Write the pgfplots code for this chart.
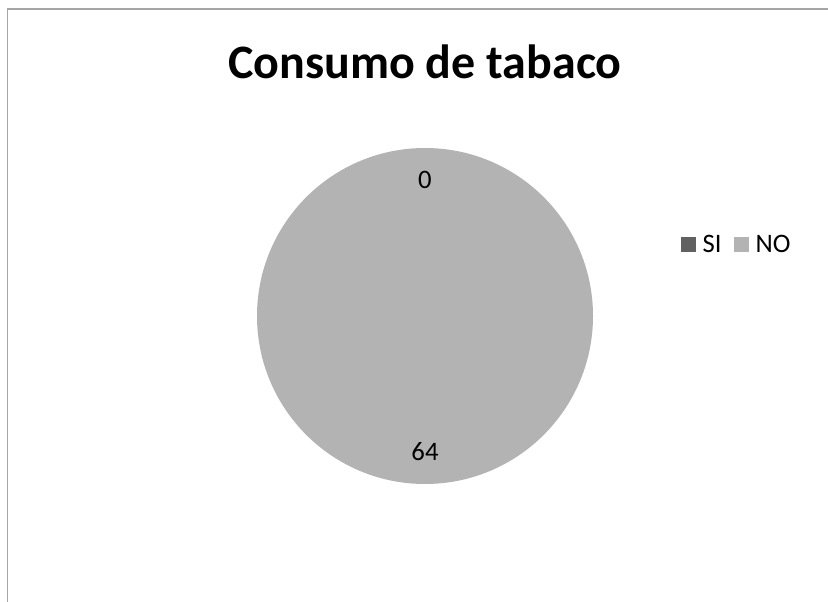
\documentclass[border=0pt]{standalone}
\usepackage{pgfplots}
\pgfplotsset{compat=1.18}
\usepackage{pgfplotstable}
\usepackage{fontspec}
\setmainfont{Carlito}
\definecolor{siColor}{HTML}{616161}
\definecolor{noColor}{HTML}{B3B3B3}
\definecolor{frameGray}{HTML}{A6A6A6}
\pgfplotstableread{
label value color
SI 0 siColor
NO 64 noColor
}\pietable
\begin{document}
\begin{tikzpicture}
\useasboundingbox (0,0) rectangle (621pt,450.75pt);
\draw[frameGray, line width=1.1pt] (5.6pt,-2pt) -- (5.6pt,444pt) -- (623pt,444pt);
\node[font=\fontsize{36}{43}\selectfont\bfseries, anchor=base] at (318.75pt,392pt) {Consumo de tabaco};
\begin{axis}[
  at={(318.75pt,213.75pt)}, anchor=center,
  x=126pt, y=126pt,
  xmin=-1, xmax=1, ymin=-1, ymax=1,
  hide axis, clip=false,
  legend columns=2,
  legend style={draw=none, fill=none, inner sep=0pt,
    font=\fontsize{20}{24}\selectfont,
    at={(rel axis cs:1.262,0.712)}, anchor=west,
    nodes={inner sep=0pt},
    /tikz/every even column/.append style={column sep=9.5pt}},
  legend image code/.code={\fill[#1] (0pt,-5.6pt) rectangle (11.2pt,5.6pt); \path (16pt,0pt);},
]
\addlegendimage{fill=siColor, draw=none}
\addlegendentry{SI}
\addlegendimage{fill=noColor, draw=none}
\addlegendentry{NO}
\pgfplotstablegetrowsof{\pietable}
\pgfmathtruncatemacro{\lastrow}{\pgfplotsretval-1}
\def\total{0}
\pgfplotsforeachungrouped \i in {0,...,\lastrow}{%
  \pgfplotstablegetelem{\i}{value}\of\pietable
  \pgfmathsetmacro{\total}{\total+\pgfplotsretval}%
}
\def\cum{0}
\pgfplotsforeachungrouped \i in {0,...,\lastrow}{%
  \pgfplotstablegetelem{\i}{value}\of\pietable
  \let\val\pgfplotsretval
  \pgfplotstablegetelem{\i}{color}\of\pietable
  \let\col\pgfplotsretval
  \pgfmathsetmacro{\aa}{90-(\cum/\total)*360}%
  \pgfmathsetmacro{\ab}{90-((\cum+\val)/\total)*360}%
  \pgfmathsetmacro{\xs}{cos(\aa)}%
  \pgfmathsetmacro{\ys}{sin(\aa)}%
  \pgfmathparse{\val>0}%
  \ifdim\pgfmathresult pt>0pt
    \edef\cmd{\noexpand\fill[\col] (axis cs:0,0) -- (axis cs:\xs,\ys) arc[start angle=\aa, end angle=\ab, radius=126pt] -- cycle;}%
    \cmd
  \fi
  \pgfmathsetmacro{\cum}{\cum+\val}%
}
\def\cum{0}
\pgfplotsforeachungrouped \i in {0,...,\lastrow}{%
  \pgfplotstablegetelem{\i}{value}\of\pietable
  \let\val\pgfplotsretval
  \pgfmathsetmacro{\aa}{90-(\cum/\total)*360}%
  \pgfmathsetmacro{\ab}{90-((\cum+\val)/\total)*360}%
  \pgfmathsetmacro{\am}{(\aa+\ab)/2}%
  \pgfmathsetmacro{\xl}{0.81*cos(\am)}%
  \pgfmathsetmacro{\yl}{0.81*sin(\am)}%
  \pgfmathtruncatemacro{\vint}{\val}%
  \edef\cmd{\noexpand\node[font=\noexpand\fontsize{20}{24}\noexpand\selectfont] at (axis cs:\xl,\yl) {\vint};}%
  \cmd
  \pgfmathsetmacro{\cum}{\cum+\val}%
}
\end{axis}
\end{tikzpicture}
\end{document}
